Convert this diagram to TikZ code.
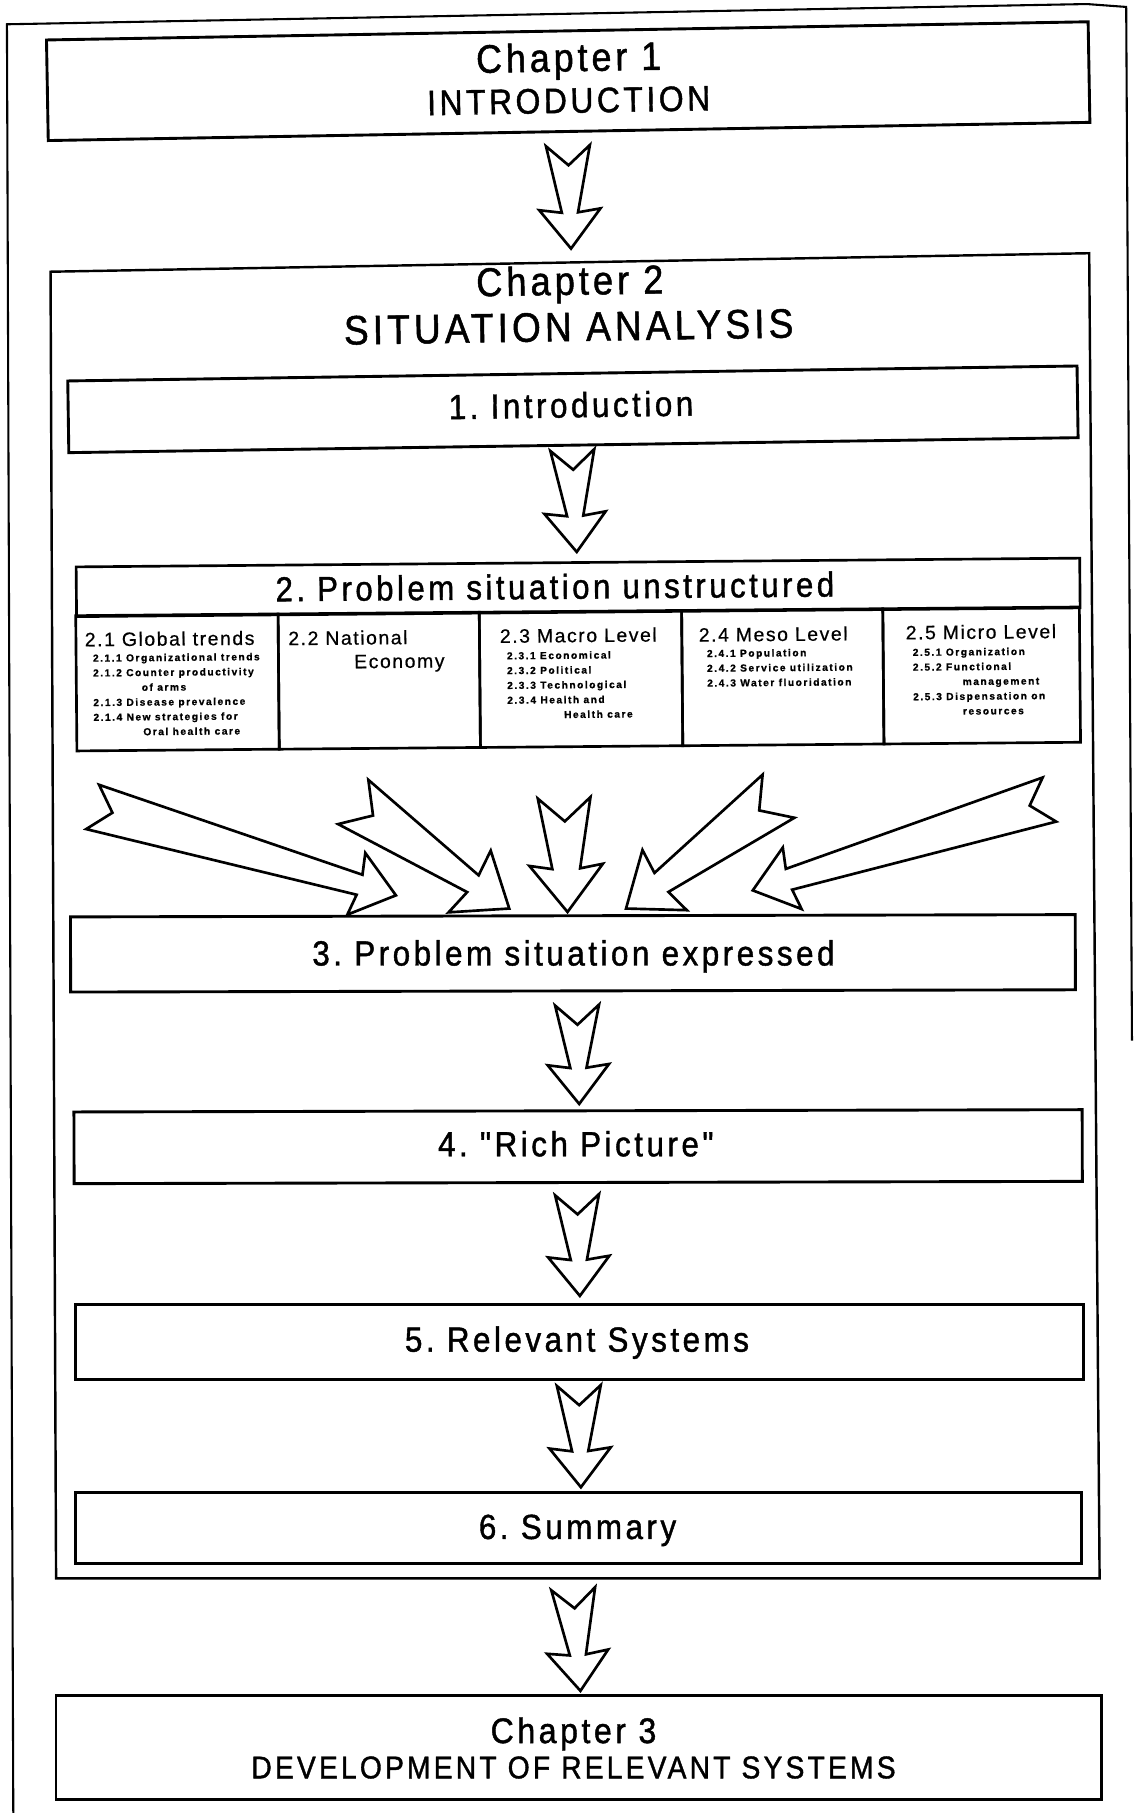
\documentclass[tikz,border=0pt]{standalone}
\usepackage{fontspec}
\usetikzlibrary{calc}
\newfontfamily\boxfnt[FakeStretch=0.9,LetterSpace=10,FakeBold=1.2]{Liberation Sans}
\newfontfamily\headfnt[LetterSpace=8,FakeBold=0.6]{Liberation Sans}
\newfontfamily\itemfnt[LetterSpace=15,FakeBold=1]{Liberation Sans}

\tikzset{
  boxframe/.style={draw=black, line width=1.25pt, inner sep=0pt},
  subframe/.style={draw=black, line width=1.15pt, inner sep=0pt},
  chframe/.style={draw=black, line width=1.05pt, line join=miter},
  pageline/.style={draw=black, line width=0.9pt},
  blockarrow/.style={draw=black, line width=1.15pt, fill=white, line join=miter},
  txt/.style={inner sep=0pt, anchor=base},
  boxtext/.style={txt, font=\boxfnt\fontsize{15.1}{17}\selectfont},
  headtext/.style={inner sep=0pt, anchor=base west, font=\headfnt\fontsize{8.4}{10}\selectfont},
  items/.style={inner sep=0pt, anchor=north west, align=left,
    font=\itemfnt\bfseries\fontsize{4.4}{6.4}\selectfont},
}

% block arrow with notched tail: #1 size factor, #2 half width of the shaft
% where it meets the head, #3 middle of the tail, #4 tip
\newcommand\flowarrow[4]{%
  \pgfmathsetlengthmacro\faBarb{#1*13.25pt}%
  \pgfmathsetlengthmacro\faHead{#1*17pt}%
  \pgfmathsetlengthmacro\faNeck{#1*15.6pt}%
  \pgfmathsetlengthmacro\faTail{#1*9.5pt}%
  \pgfmathsetlengthmacro\faNotch{#1*8.5pt}%
  \def\faShaft{#2}%
  \path (#3) coordinate (fa-t) (#4) coordinate (fa-p);
  \path ($(fa-p)!\faHead!(fa-t)$) coordinate (fa-h)
        ($(fa-p)!\faNeck!(fa-t)$) coordinate (fa-s)
        ($(fa-t)!\faNotch!(fa-p)$) coordinate (fa-n);
  \draw[blockarrow] (fa-p)
    -- ($(fa-h)!\faBarb!90:(fa-p)$)
    -- ($(fa-s)!\faShaft!90:(fa-p)$)
    -- ($(fa-t)!\faTail!90:(fa-p)$)
    -- (fa-n)
    -- ($(fa-t)!\faTail!-90:(fa-p)$)
    -- ($(fa-s)!\faShaft!-90:(fa-p)$)
    -- ($(fa-h)!\faBarb!-90:(fa-p)$)
    -- cycle;
}

\begin{document}
\begin{tikzpicture}[x=0.5pt, y=-0.5pt]
\useasboundingbox (0,0) rectangle (982,1568);

% page border
\coordinate (pg-a) at (11.5,1568);
\coordinate (pg-b) at (6,21);
\coordinate (pg-c) at (940,3.5);
\coordinate (pg-d) at (974,6);
\coordinate (pg-e) at (979,900);
\draw[pageline] (pg-a) -- (pg-b) -- (pg-c) -- (pg-d) -- (pg-e);

% Chapter 1
\node[boxframe, minimum width=450.5pt, minimum height=43.5pt, rotate=1] (ch1) at (491.4,70.2) {};
\node[txt, font=\boxfnt\fontsize{17.2}{19}\selectfont, rotate=1] (ch1-a) at (492,61.7) {Chapter 1};
\node[txt, font=\boxfnt\fontsize{15.3}{17}\selectfont, rotate=1] (ch1-b) at (492,97.6) {INTRODUCTION};

% Chapter 2 frame
\coordinate (ch2-nw) at (43.7,235);
\coordinate (ch2-ne) at (942,219);
\coordinate (ch2-se) at (951,1365);
\coordinate (ch2-sw) at (48.5,1365);
\draw[chframe] (ch2-nw) -- (ch2-ne) -- (ch2-se) -- (ch2-sw) -- cycle;
\coordinate (ch2-n) at ($(ch2-nw)!0.5!(ch2-ne)$);
\coordinate (ch2-s) at ($(ch2-sw)!0.5!(ch2-se)$);
\node[txt, font=\boxfnt\fontsize{17.4}{19}\selectfont, rotate=0.9] (ch2-a) at (493,255) {Chapter 2};
\node[txt, font=\boxfnt\fontsize{17.8}{20}\selectfont, rotate=0.9] (ch2-b) at (492,295) {SITUATION ANALYSIS};

% 1. Introduction
\node[boxframe, minimum width=436.5pt, minimum height=31pt, rotate=0.85] (b1) at (495.5,354) {};
\node[boxtext, rotate=0.85] (b1-t) at (494,361) {1.\ Introduction};

% 2. Problem situation unstructured
\node[subframe, minimum width=434pt, minimum height=21.5pt, rotate=0.5] (b2) at (500,508) {};
\node[boxtext, font=\boxfnt\fontsize{15}{17}\selectfont, rotate=0.5] (b2-t) at (480,518) {2.\ Problem situation unstructured};
\node[subframe, minimum width=87.5pt, minimum height=58.5pt, rotate=0.5] (s1) at (153.5,590.2) {};
\node[subframe, minimum width=87pt, minimum height=58.5pt, rotate=0.5] (s2) at (328,588.7) {};
\node[subframe, minimum width=87.5pt, minimum height=58.5pt, rotate=0.5] (s3) at (502.5,587.2) {};
\node[subframe, minimum width=87pt, minimum height=58.5pt, rotate=0.5] (s4) at (677,585.7) {};
\node[subframe, minimum width=85pt, minimum height=58.5pt, rotate=0.5] (s5) at (849,584.2) {};

\node[headtext, rotate=0.5] (s1-h) at (73,559) {2.1 Global trends};
\node[items, rotate=0.5] (s1-i) at (80,565.5) {2.1.1 Organizational trends\\2.1.2 Counter productivity\\\hspace*{21pt}of arms\\2.1.3 Disease prevalence\\2.1.4 New strategies for\\\hspace*{21.5pt}Oral health care};

\node[headtext, rotate=0.5] (s2-h) at (249,558) {2.2 National};
\node[headtext, rotate=0.5] (s2-h2) at (306,578) {Economy};

\node[headtext, rotate=0.5] (s3-h) at (432,556) {2.3 Macro Level};
\node[items, rotate=0.5] (s3-i) at (438,563.5) {2.3.1 Economical\\2.3.2 Political\\2.3.3 Technological\\2.3.4 Health and\\\hspace*{24.5pt}Health care};

\node[headtext, rotate=0.5] (s4-h) at (604,555) {2.4 Meso Level};
\node[items, rotate=0.5] (s4-i) at (611,561.5) {2.4.1 Population\\2.4.2 Service utilization\\2.4.3 Water fluoridation};

\node[headtext, rotate=0.5] (s5-h) at (783,553) {2.5 Micro Level};
\node[items, rotate=0.5] (s5-i) at (789,560.5) {2.5.1 Organization\\2.5.2 Functional\\\hspace*{21.5pt}management\\2.5.3 Dispensation on\\\hspace*{21.5pt}resources};

% 3 to 6
\node[boxframe, minimum width=434.5pt, minimum height=32.5pt, rotate=0.13] (b3) at (495.5,824.5) {};
\node[boxtext] (b3-t) at (496,835) {3.\ Problem situation expressed};

\node[boxframe, minimum width=436pt, minimum height=31pt, rotate=0.13] (b4) at (500,991.7) {};
\node[boxtext] (b4-t) at (498,1000) {4.\ "Rich Picture"};

\node[boxframe, minimum width=436.25pt, minimum height=32.5pt] (b5) at (501.2,1160.5) {};
\node[boxtext] (b5-t) at (499,1169) {5.\ Relevant Systems};

\node[boxframe, minimum width=435pt, minimum height=30.5pt] (b6) at (500,1321.5) {};
\node[boxtext] (b6-t) at (499.5,1331) {6.\ Summary};

% Chapter 3
\node[boxframe, minimum width=452.25pt, minimum height=45pt] (ch3) at (500.7,1511) {};
\node[txt, font=\boxfnt\fontsize{15.4}{17}\selectfont] (ch3-a) at (496,1507.5) {Chapter 3};
\node[txt, font=\boxfnt\fontsize{13.6}{15}\selectfont] (ch3-b) at (496,1538) {DEVELOPMENT OF RELEVANT SYSTEMS};

% flow arrows between the stages
\flowarrow{1}{3.5pt}{$(ch1.south)+(-1,11)$}{$(ch2-n)+(1,-12)$}
\flowarrow{1}{3.5pt}{$(b1.south)+(-1,3)$}{$(b2.north)+(-1,-8)$}
\flowarrow{1}{3.5pt}{$(b3.south)+(3.5,11)$}{$(b4.north)+(1,-4.7)$}
\flowarrow{1}{3.5pt}{$(b4.south)+(-1,9.3)$}{$(b5.north)+(0.3,-6)$}
\flowarrow{1}{3.5pt}{$(b5.south)+(-0.6,4)$}{$(b6.north)+(2.4,-3.5)$}
\flowarrow{1}{3.5pt}{$(ch2-s)+(-4,9)$}{$(ch3.north)+(1.3,-2.4)$}

% the five levels feeding the expressed problem situation
\coordinate (tA) at (80.1,697.9);
\coordinate (tB) at (305.5,693.6);
\coordinate (tC) at (487.9,690);
\coordinate (tD) at (673.3,688.6);
\coordinate (tE) at (907.6,691.5);
\flowarrow{1.05}{4.5pt}{tA}{$(b3.north)+(-153,-16.4)$}
\flowarrow{1.22}{4.4pt}{tB}{$(b3.north)+(-55,-5)$}
\flowarrow{1.2}{6pt}{tC}{$(b3.north)+(-4.6,-2)$}
\flowarrow{1.22}{5.1pt}{tD}{$(b3.north)+(46,-5)$}
\flowarrow{1.05}{4.7pt}{tE}{$(b3.north)+(155.6,-20.7)$}

\end{tikzpicture}
\end{document}
